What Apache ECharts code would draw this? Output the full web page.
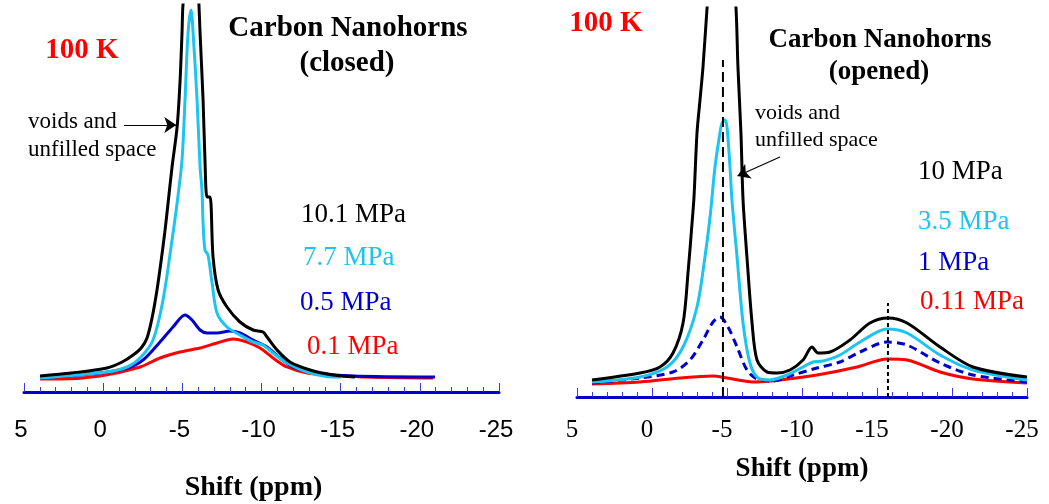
<!DOCTYPE html>
<html><head><meta charset="utf-8">
<script src="https://cdn.jsdelivr.net/npm/echarts/dist/echarts.min.js"></script>
<style>html,body{margin:0;padding:0;background:#fff}#c{width:1049px;height:504px}</style>
</head><body><div id="c"></div>
<script>
// ---- Tick labels / axis ----
const shiftMin = -25, shiftMax = 5, shiftStep = 5;
const axisTitle = 'Shift (ppm)';

// ---- Closed nanohorns (left), [shift ppm, intensity a.u.] ----
const closed_10_1 = [[3.99,16],[2.0,19],[-0.24,24],[-1.2,30],[-1.89,37],[-2.4,44],[-2.77,54],[-3.1,75],[-3.40,102],[-3.65,130],[-3.91,162],[-4.10,189],[-4.35,225],[-4.67,265],[-4.85,309],[-4.98,359],[-5.04,387],[-5.5,470],[-6.0,400],[-6.05,387],[-6.12,359],[-6.31,292],[-6.43,232],[-6.56,195],[-6.75,195],[-6.94,135],[-7.26,102],[-7.82,85],[-8.64,70],[-9.47,62],[-10.1,60],[-10.35,55],[-10.98,42],[-11.8,30],[-13.07,22],[-14.52,17],[-15.9,15]];
const closed_7_7 = [[3.99,14],[-0.24,20],[-1.51,25],[-2.33,34],[-3.15,52],[-3.78,92],[-4.35,152],[-4.67,189],[-4.98,232],[-5.17,292],[-5.36,359],[-5.55,382],[-5.68,359],[-5.93,292],[-6.12,225],[-6.24,202],[-6.31,169],[-6.43,142],[-6.62,137],[-6.88,109],[-7.19,79],[-7.82,65],[-8.64,57],[-9.47,50],[-10.1,47],[-10.73,39],[-11.61,29],[-12.88,20],[-14.52,15],[-15.0,15]];
const closed_0_5 = [[3.99,14],[0.2,19],[-1.51,24],[-2.52,32],[-3.59,50],[-4.41,65],[-5.17,77],[-5.61,72],[-6.12,62],[-6.56,59],[-7.19,59],[-8.01,61],[-8.64,59],[-9.47,52],[-10.35,45],[-11.17,34],[-11.99,25],[-13.51,19],[-15.78,16],[-20.96,15]];
const closed_0_1 = [[3.99,13],[2.73,13],[0.2,16],[-2.33,25],[-3.59,34],[-4.85,40],[-6.12,44],[-7.19,49],[-8.2,53],[-9.09,50],[-9.91,44],[-10.73,34],[-11.61,25],[-12.88,19],[-14.52,17],[-16.67,15],[-20.84,14]];

// ---- Opened nanohorns (right) ----
const opened_10 = [[4.0,17],[0.8,24],[-0.53,30],[-1.4,44],[-2.07,74],[-2.4,124],[-2.67,174],[-2.8,200],[-3.0,264],[-3.2,297],[-3.4,330],[-3.67,389],[-4.7,600],[-5.6,389],[-5.73,330],[-5.93,264],[-6.07,197],[-6.33,140],[-6.67,74],[-7.0,37],[-7.67,25],[-8.33,24],[-9.2,27],[-10.07,37],[-10.67,50],[-11.07,44],[-11.87,45],[-13.2,57],[-14.53,74],[-15.73,79],[-17.0,74],[-19.2,50],[-21.4,30],[-25,20]];
const opened_3_5 = [[4.0,15],[0.8,20],[-1.0,30],[-2.07,50],[-3.0,90],[-3.53,140],[-3.87,180],[-4.2,230],[-4.53,264],[-4.67,274],[-4.87,277],[-5.0,270],[-5.2,230],[-5.33,197],[-5.67,140],[-6.07,74],[-6.53,34],[-7.07,19],[-7.87,17],[-9.0,22],[-10.07,30],[-10.73,35],[-11.4,36],[-12.53,42],[-13.87,55],[-15.67,68],[-17.0,64],[-19.2,42],[-21.4,27],[-25,17]];
const opened_1 = [[4.0,14],[0.8,19],[-1.4,25],[-2.53,37],[-3.4,57],[-4.07,75],[-4.53,80],[-5.07,70],[-5.67,50],[-6.33,27],[-7.0,18],[-8.07,16],[-9.4,22],[-11.0,29],[-12.53,35],[-13.87,45],[-15.67,55],[-17.0,52],[-19.2,34],[-21.4,22],[-25,15]];
const opened_0_11 = [[4.0,13],[0.8,15],[-1.87,19],[-4.07,21],[-5.0,19],[-6.73,15],[-8.53,17],[-11.0,22],[-13.67,30],[-15.67,38],[-17.0,37],[-19.2,25],[-21.4,18],[-25,14]];

// reference lines (right panel) and annotation arrows
const refDashed = [[-4.73,0],[-4.73,337]];
const refDotted = [[-15.73,0],[-15.73,94]];
const arrowClosed = [[-1.32,267],[-4.62,267]];
const arrowOpened = [[-8.53,240],[-5.70,221]];

const BLACK='#000000', CYAN='#1cc4f2', BLUE='#0000cc', RED='#ff0000';
const serif='"Liberation Serif","Times New Roman",serif';
const sans='"Liberation Sans",Arial,sans-serif';

function xAxis(gi, labelFont, labelSize, labelMargin, nameGap, nameSize, labelPad, namePad){
  return {type:'value', gridIndex:gi, min:shiftMin, max:shiftMax, interval:shiftStep, inverse:true,
    axisLine:{show:true,onZero:false,lineStyle:{color:'#0000cc',width:3}},
    axisTick:{show:true,inside:true,length:9,lineStyle:{color:'#3a3ae6',width:1}},
    minorTick:{show:true,splitNumber:5,length:5,lineStyle:{color:'#3a3ae6',width:1}},
    splitLine:{show:false}, minorSplitLine:{show:false},
    axisLabel:{fontFamily:labelFont,fontSize:labelSize,color:'#000',margin:labelMargin,padding:labelPad},
    name:axisTitle, nameLocation:'middle', nameGap:nameGap,
    nameTextStyle:{fontFamily:serif,fontWeight:'bold',fontSize:nameSize,color:'#000',padding:namePad}};
}
function line(data, color, xi, opts){
  opts = opts||{};
  return Object.assign({type:'line', data:data, xAxisIndex:xi, yAxisIndex:xi, showSymbol:false, smooth:0.3,
    clip:true, silent:true,
    lineStyle:{color:color,width:opts.width||3,type:opts.type||'solid'}}, opts.extra||{});
}
function arrow(pts){
  return {silent:true, symbol:['none','arrow'], symbolSize:12, animation:false,
    label:{show:false}, lineStyle:{color:'#000',width:1.2,type:'solid'},
    itemStyle:{color:'#000'},
    data:[[{coord:pts[0]},{coord:pts[1]}]]};
}
function txt(x,y,s,size,color,weight,align){
  return {type:'text', x:x, y:y, style:{text:s, fontFamily:serif, fontSize:size, fill:color,
    fontWeight:weight||'normal', textAlign:align||'left', textVerticalAlign:'middle'}};
}

const chart = echarts.init(document.getElementById('c'), null, {renderer:'canvas'});
chart.setOption({
  animation:false,
  backgroundColor:'#fff',
  grid:[{left:24,right:550,top:5,bottom:112,containLabel:false,outerBoundsMode:'none'},
        {left:577,right:22,top:8,bottom:107,containLabel:false,outerBoundsMode:'none'}],
  xAxis:[xAxis(0,sans,24,26,82,28,[0,6,0,0],[0,16,0,0]), xAxis(1,serif,25,21,59,27,[0,10,0,0],[0,0,0,0])],
  yAxis:[{type:'value',gridIndex:0,min:0,max:387,show:false},{type:'value',gridIndex:1,min:0,max:389,show:false}],
  series:[
    line(closed_0_1, RED, 0),
    line(closed_0_5, BLUE, 0),
    line(closed_7_7, CYAN, 0),
    line(closed_10_1, BLACK, 0, {extra:{markLine:arrow(arrowClosed)}}),
    line(opened_0_11, RED, 1),
    line(opened_1, BLUE, 1, {type:[8,5]}),
    line(opened_3_5, CYAN, 1),
    line(opened_10, BLACK, 1, {extra:{markLine:arrow(arrowOpened)}}),
    line(refDashed, BLACK, 1, {width:2, type:[10,5], extra:{smooth:false}}),
    line(refDotted, BLACK, 1, {width:2, type:[4,3], extra:{smooth:false}})
  ],
  graphic:[
    txt(82,51,'100 K',29,RED,'bold','center'),
    txt(348,29,'Carbon Nanohorns',29,BLACK,'bold','center'),
    txt(347,64,'(closed)',29,BLACK,'bold','center'),
    txt(28,122,'voids and',23,BLACK),
    txt(28,150,'unfilled space',23,BLACK),
    txt(301,215,'10.1 MPa',27,BLACK),
    txt(303,258,'7.7 MPa',27,CYAN),
    txt(300,303,'0.5 MPa',27,BLUE),
    txt(307,347,'0.1 MPa',27,RED),
    txt(606,24,'100 K',29,RED,'bold','center'),
    txt(880,40,'Carbon Nanohorns',27,BLACK,'bold','center'),
    txt(879,72,'(opened)',27,BLACK,'bold','center'),
    txt(755,113,'voids and',22,BLACK),
    txt(755,140,'unfilled space',22,BLACK),
    txt(918,172,'10 MPa',27,BLACK),
    txt(918,222,'3.5 MPa',27,CYAN),
    txt(918,263,'1 MPa',27,BLUE),
    txt(920,302,'0.11 MPa',27,RED)
  ]
});
</script></body></html>
